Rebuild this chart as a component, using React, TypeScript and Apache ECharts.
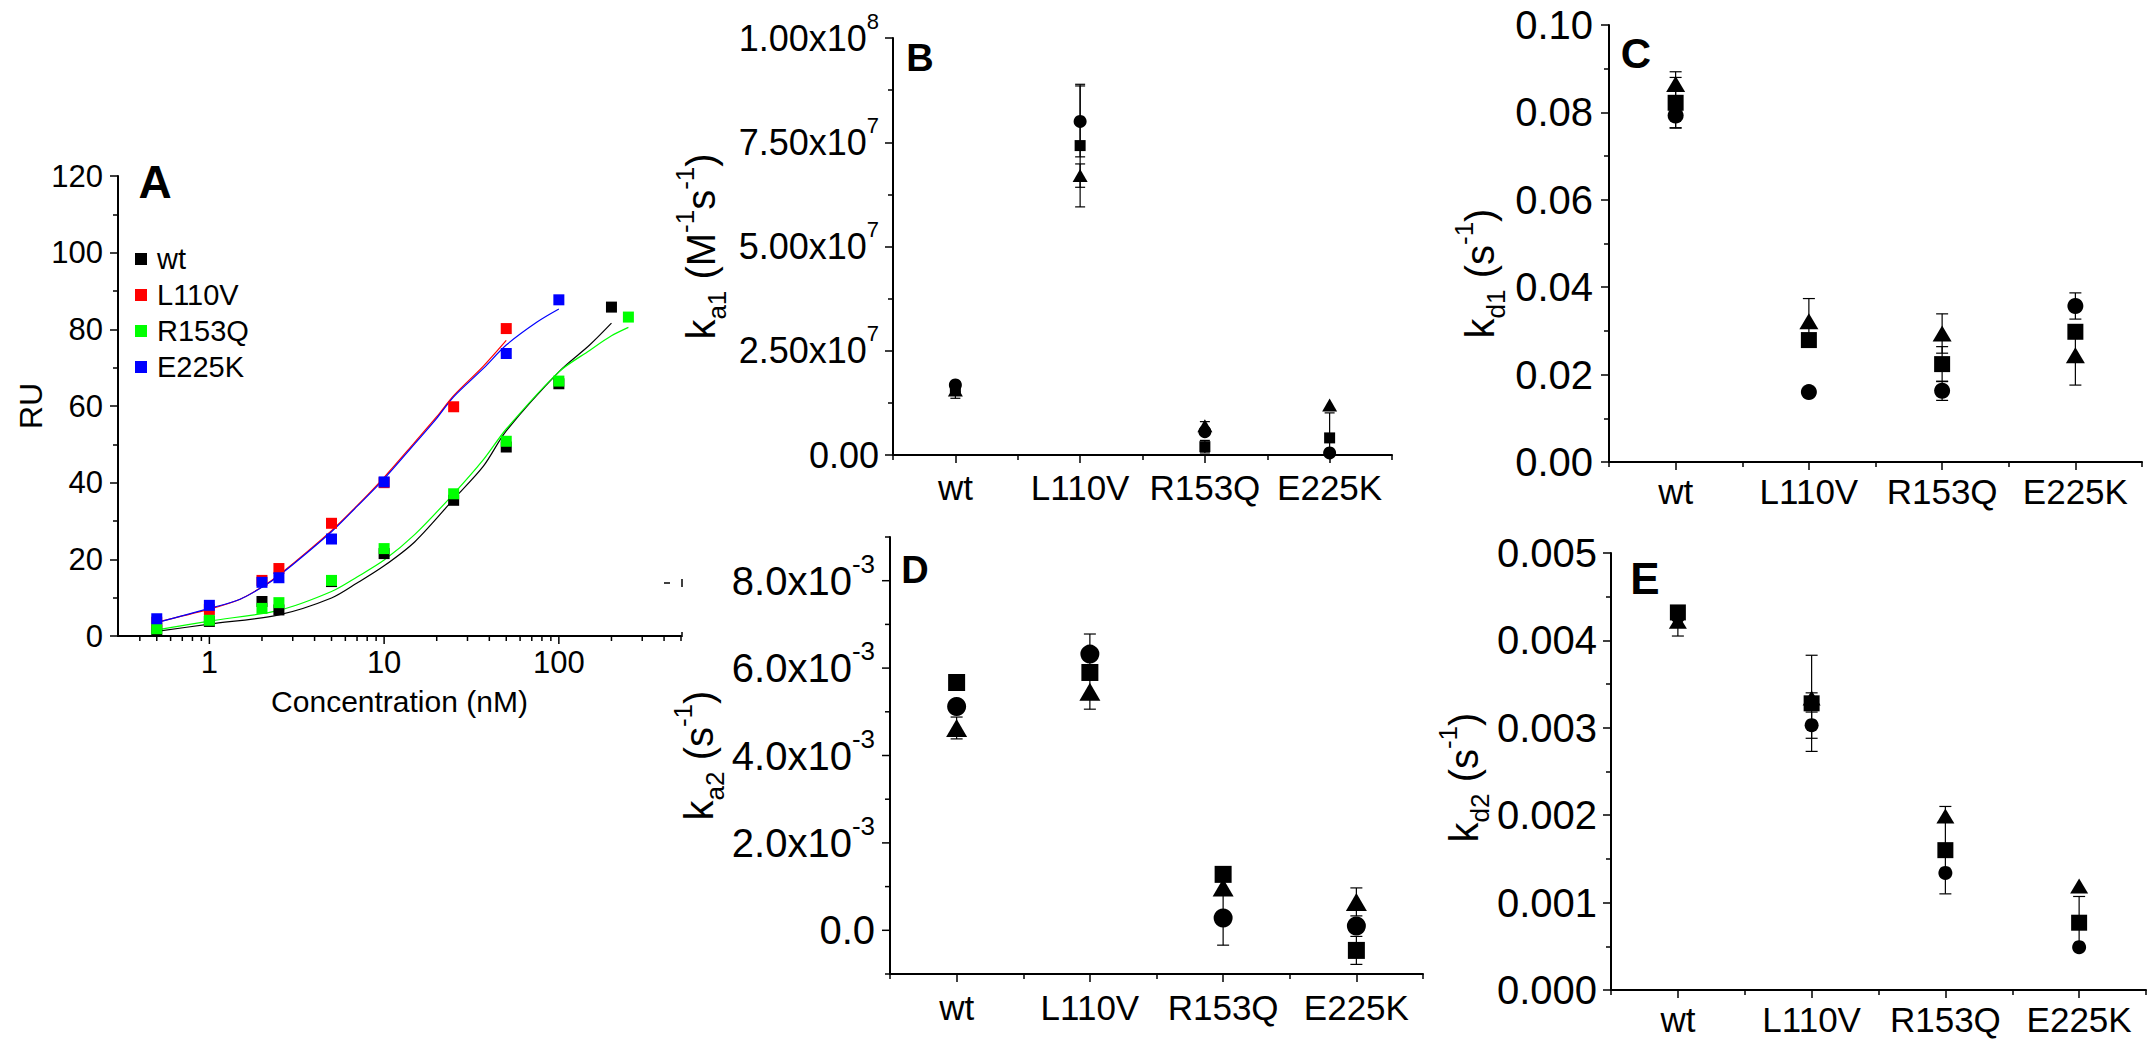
import React, { useEffect, useRef } from 'react';
import * as echarts from 'echarts';

const FONT = '"Liberation Sans", Arial, Helvetica, sans-serif';
const BLACK = '#000000';

// ---------- Panel A: RU vs concentration (nM) ----------
const aConcWt = [0.5, 1, 2, 2.5, 5, 10, 25, 50, 100, 200];
const aRuWt = [1.5, 3.8, 9.0, 6.8, 14.2, 21.5, 35.4, 49.3, 65.8, 85.8];
const aConcL110V = [0.5, 1, 2, 2.5, 5, 10, 25, 50];
const aRuL110V = [3.6, 6.9, 14.5, 17.6, 29.4, 40.0, 59.8, 80.2];
const aConcR153Q = [0.5, 1, 2, 2.5, 5, 10, 25, 50, 100, 250];
const aRuR153Q = [1.9, 4.1, 7.2, 8.7, 14.5, 22.8, 37.1, 50.8, 66.5, 83.2];
const aConcE225K = [0.5, 1, 2, 2.5, 5, 10, 50, 100];
const aRuE225K = [4.5, 8.0, 14.0, 15.2, 25.3, 40.2, 73.7, 87.7];

// fitted curves
const fitConcWt = [0.5, 1, 2.5, 5, 7, 10, 15, 25, 37, 50, 100, 150, 200];
const fitRuWt = [1.2, 3.1, 5.5, 9.9, 13.8, 18.3, 24.6, 35.7, 44.3, 53.5, 68.9, 75.9, 81.6];
const fitConcL110V = [0.5, 1, 1.5, 2, 2.5, 5, 7, 10, 15, 20, 25, 37, 50];
const fitRuL110V = [3.6, 7.0, 9.6, 12.8, 15.9, 27.5, 34.0, 41.4, 50.6, 57.2, 62.7, 70.4, 77.1];
const fitConcR153Q = [0.5, 1, 2.5, 5, 7, 10, 15, 25, 37, 50, 100, 150, 200, 250];
const fitRuR153Q = [1.6, 3.9, 6.7, 11.6, 15.4, 19.8, 26.5, 37.1, 46.0, 54.0, 68.9, 74.5, 78.3, 80.5];
const fitConcE225K = [0.5, 1, 1.5, 2, 2.5, 5, 7, 10, 15, 20, 25, 37, 50, 75, 100];
const fitRuE225K = [3.5, 7.2, 9.6, 12.7, 15.7, 27.2, 33.8, 41.0, 50.2, 56.8, 62.4, 69.8, 75.9, 81.9, 85.3];

const aSeriesNames = ['wt', 'L110V', 'R153Q', 'E225K'];
const aColors = ['#000000', '#ff0000', '#00ff00', '#0000ff'];

// tick positions on panel A's log axis
const aMajorTicks = [1, 10, 100];
const aMinorTicks = [0.4, 0.5, 0.6, 0.7, 0.8, 0.9, 2, 3, 4, 5, 6, 7, 8, 9, 20, 30, 40, 50, 60, 70, 80, 90, 200, 300, 400, 500];

// ---------- Panels B-E ----------
const categories = ['wt', 'L110V', 'R153Q', 'E225K'];

// B: k_a1 (M^-1 s^-1)
const bSquare = [1.62e7, 7.42e7, 0.2e7, 0.41e7];
const bSquareErr = [0.1e7, 1.47e7, 0.15e7, 0.6e7];
const bCircle = [1.68e7, 8.0e7, 0.56e7, 0.05e7];
const bCircleErr = [0, 0.85e7, 0, 0];
const bTriangle = [1.56e7, 6.7e7, 0.7e7, 1.2e7];
const bTriangleErr = [0.2e7, 0.28e7, 0.1e7, 0];

// C: k_d1 (s^-1)
const cSquare = [0.0822, 0.0279, 0.0224, 0.0298];
const cSquareErr = [0.0058, 0, 0.004, 0];
const cCircle = [0.0793, 0.016, 0.0163, 0.0357];
const cCircleErr = [0.0028, 0, 0.0022, 0.003];
const cTriangle = [0.0865, 0.0322, 0.0294, 0.0244];
const cTriangleErr = [0.0028, 0.0052, 0.0045, 0.0068];

// D: k_a2 (s^-1)
const dSquare = [5.67e-3, 5.9e-3, 1.28e-3, -0.46e-3];
const dSquareErr = [0, 0, 0, 0.32e-3];
const dCircle = [5.12e-3, 6.32e-3, 0.28e-3, 0.1e-3];
const dCircleErr = [0, 0.46e-3, 0.62e-3, 0];
const dTriangle = [4.63e-3, 5.46e-3, 0.98e-3, 0.65e-3];
const dTriangleErr = [0.25e-3, 0.4e-3, 0, 0.32e-3];

// E: k_d2 (s^-1)
const eSquare = [4.32e-3, 3.28e-3, 1.6e-3, 0.77e-3];
const eSquareErr = [0, 0.55e-3, 0.5e-3, 0.3e-3];
const eCircle = [4.27e-3, 3.03e-3, 1.34e-3, 0.49e-3];
const eCircleErr = [0, 0.15e-3, 0, 0];
const eTriangle = [4.22e-3, 3.34e-3, 1.99e-3, 1.19e-3];
const eTriangleErr = [0.17e-3, 0.06e-3, 0, 0];

// tick positions on panel D's y axis
const dMajorTicks = [0, 0.002, 0.004, 0.006, 0.008];
const dMinorTicks = [-0.001, 0.001, 0.003, 0.005, 0.007, 0.009];

function zip(xs: number[], ys: number[]) {
  return xs.map((x, i) => [x, ys[i]]);
}

const axisLine = { show: true, onZero: false, lineStyle: { color: BLACK, width: 2 } };
const tickLine = { color: BLACK, width: 1.5 };
const majorTick = { show: true, length: 8, lineStyle: tickLine };
const minorTick = { show: true, splitNumber: 2, length: 5, lineStyle: tickLine };

function catMajor(gi: number, margin: number) {
  return {
    type: 'category', gridIndex: gi, data: categories, position: 'bottom', boundaryGap: true,
    axisLine, axisTick: { ...majorTick, alignWithLabel: true, interval: 0 },
    axisLabel: { interval: 0, fontSize: 35, margin, color: BLACK, fontFamily: FONT },
    splitLine: { show: false },
  };
}
function catMinor(gi: number) {
  return {
    type: 'category', gridIndex: gi, data: categories, position: 'bottom', boundaryGap: true,
    axisLine: { show: false, onZero: false },
    axisTick: { show: true, length: 5, interval: 0, alignWithLabel: false, lineStyle: tickLine },
    axisLabel: { show: false }, splitLine: { show: false },
  };
}

// shift: moves the rotated title downwards by that many pixels
function nameRich(big: number, small: number, lh: number, shift: number) {
  return {
    k: { fontSize: big, fontFamily: FONT, color: BLACK, lineHeight: lh },
    t: { fontSize: big, fontFamily: FONT, color: BLACK, lineHeight: lh },
    te: { fontSize: big, fontFamily: FONT, color: BLACK, lineHeight: lh, padding: [0, Math.max(0, 2 * shift), 0, Math.max(0, -2 * shift)] },
    sub: { fontSize: small, fontFamily: FONT, color: BLACK, lineHeight: small, verticalAlign: 'bottom' },
    sup: { fontSize: small, fontFamily: FONT, color: BLACK, lineHeight: small, verticalAlign: 'top' },
  };
}

function labelRich(big: number, small: number, lh: number) {
  return {
    m: { fontSize: big, fontFamily: FONT, color: BLACK, lineHeight: lh },
    e: { fontSize: small, fontFamily: FONT, color: BLACK, lineHeight: small, verticalAlign: 'top' },
  };
}

function errorSeries(xi: number, yi: number, values: number[], errs: number[], cap: number) {
  const data = values.map((v, i) => [i, v - errs[i], v + errs[i], errs[i]]).filter((d) => d[3] > 0);
  return {
    type: 'custom', xAxisIndex: xi, yAxisIndex: yi, clip: true, silent: true, z: 2,
    encode: { x: 0, y: [1, 2] },
    data,
    renderItem: (params: any, api: any) => {
      const lo = api.coord([api.value(0), api.value(1)]);
      const hi = api.coord([api.value(0), api.value(2)]);
      const st = { stroke: BLACK, lineWidth: 1.2 };
      return {
        type: 'group',
        children: [
          { type: 'line', shape: { x1: lo[0], y1: lo[1], x2: hi[0], y2: hi[1] }, style: st },
          { type: 'line', shape: { x1: lo[0] - cap, y1: lo[1], x2: lo[0] + cap, y2: lo[1] }, style: st },
          { type: 'line', shape: { x1: hi[0] - cap, y1: hi[1], x2: hi[0] + cap, y2: hi[1] }, style: st },
        ],
      };
    },
  };
}

function shapeSeries(xi: number, yi: number, values: number[], symbol: string, size: any) {
  return {
    type: 'scatter', xAxisIndex: xi, yAxisIndex: yi, symbol, symbolSize: size, silent: true, z: 3,
    itemStyle: { color: BLACK, opacity: 1 },
    data: values.map((v, i) => [i, v]),
  };
}

function xTickSeries(xi: number, yi: number, values: number[], len: number) {
  return {
    type: 'custom', xAxisIndex: xi, yAxisIndex: yi, clip: false, silent: true, z: 5,
    data: values.map((v) => [v, 1]),
    renderItem: (params: any, api: any) => {
      const cs = params.coordSys;
      const x = api.coord([api.value(0), 1])[0];
      const y = cs.y + cs.height;
      return { type: 'line', shape: { x1: x, y1: y, x2: x, y2: y + len }, style: { stroke: BLACK, lineWidth: 1.5 } };
    },
  };
}

function yTickSeries(xi: number, yi: number, values: number[], len: number) {
  return {
    type: 'custom', xAxisIndex: xi, yAxisIndex: yi, clip: false, silent: true, z: 5,
    data: values.map((v) => [0, v]),
    renderItem: (params: any, api: any) => {
      const cs = params.coordSys;
      const y = api.coord([0, api.value(1)])[1];
      const x = cs.x;
      return { type: 'line', shape: { x1: x, y1: y, x2: x - len, y2: y }, style: { stroke: BLACK, lineWidth: 1.5 } };
    },
  };
}

function formatSci2(v: number) {
  if (Math.abs(v) < 1e-20) return '{m|0.00}';
  const ex = Math.floor(Math.log10(v) + 1e-9);
  const mant = v / Math.pow(10, ex);
  return '{m|' + mant.toFixed(2) + 'x10}{e|' + ex + '}';
}

function formatD(v: number) {
  const k = Math.round(v * 1000);
  if (k % 2 !== 0) return '';
  if (k === 0) return '{m|0.0}';
  return '{m|' + k.toFixed(1) + 'x10}{e|-3}';
}

function buildOption() {
  const series: any[] = [];

  // Panel A fitted curves
  const fits = [
    zip(fitConcWt, fitRuWt), zip(fitConcL110V, fitRuL110V),
    zip(fitConcR153Q, fitRuR153Q), zip(fitConcE225K, fitRuE225K),
  ];
  fits.forEach((d, i) => {
    series.push({
      type: 'line', name: aSeriesNames[i] + ' fit', xAxisIndex: 0, yAxisIndex: 0, data: d,
      showSymbol: false, smooth: 0.3, silent: true, z: 2,
      lineStyle: { color: aColors[i], width: 1.2 }, itemStyle: { color: aColors[i] },
    });
  });
  // Panel A points
  const pts = [
    zip(aConcWt, aRuWt), zip(aConcL110V, aRuL110V),
    zip(aConcR153Q, aRuR153Q), zip(aConcE225K, aRuE225K),
  ];
  pts.forEach((d, i) => {
    series.push({
      type: 'scatter', name: aSeriesNames[i], xAxisIndex: 0, yAxisIndex: 0, data: d,
      symbol: 'rect', symbolSize: 11, silent: true, z: 3, itemStyle: { color: aColors[i], opacity: 1 },
    });
  });
  series.push(xTickSeries(0, 0, aMajorTicks, 8));
  series.push(xTickSeries(0, 0, aMinorTicks, 5));

  const panels = [
    { xi: 1, yi: 1, sq: bSquare, sqE: bSquareErr, ci: bCircle, ciE: bCircleErr, tr: bTriangle, trE: bTriangleErr, c: 13, s: 11, t: [15, 13], cap: 5 },
    { xi: 2, yi: 2, sq: cSquare, sqE: cSquareErr, ci: cCircle, ciE: cCircleErr, tr: cTriangle, trE: cTriangleErr, c: 16, s: 16, t: [19, 16], cap: 6 },
    { xi: 3, yi: 3, sq: dSquare, sqE: dSquareErr, ci: dCircle, ciE: dCircleErr, tr: dTriangle, trE: dTriangleErr, c: 19, s: 17, t: [21, 18], cap: 6 },
    { xi: 4, yi: 4, sq: eSquare, sqE: eSquareErr, ci: eCircle, ciE: eCircleErr, tr: eTriangle, trE: eTriangleErr, c: 14, s: 16, t: [18, 15], cap: 6 },
  ];
  panels.forEach((p) => {
    series.push(errorSeries(p.xi, p.yi, p.sq, p.sqE, p.cap));
    series.push(errorSeries(p.xi, p.yi, p.ci, p.ciE, p.cap));
    series.push(errorSeries(p.xi, p.yi, p.tr, p.trE, p.cap));
    series.push(shapeSeries(p.xi, p.yi, p.tr, 'triangle', p.t));
    series.push(shapeSeries(p.xi, p.yi, p.ci, 'circle', p.c));
    series.push(shapeSeries(p.xi, p.yi, p.sq, 'rect', p.s));
  });
  series.push(yTickSeries(3, 3, dMajorTicks, 8));
  series.push(yTickSeries(3, 3, dMinorTicks, 5));

  const gridBase = { containLabel: false, outerBoundsMode: 'none', show: false };

  return {
    animation: false,
    backgroundColor: '#ffffff',
    textStyle: { fontFamily: FONT, color: BLACK },
    grid: [
      { ...gridBase, left: 118, top: 176, width: 563, height: 460 },
      { ...gridBase, left: 893, top: 38, width: 499, height: 417 },
      { ...gridBase, left: 1609, top: 25, width: 533, height: 437 },
      { ...gridBase, left: 890, top: 537, width: 533, height: 437 },
      { ...gridBase, left: 1611, top: 553, width: 535, height: 437 },
    ],
    legend: {
      show: true, orient: 'vertical', left: 130, top: 239, itemWidth: 12, itemHeight: 12, itemGap: 6,
      icon: 'rect', selectedMode: false, data: aSeriesNames,
      textStyle: { fontSize: 29, fontFamily: FONT, color: BLACK, lineHeight: 30, padding: [0, 0, 0, 5] },
    },
    xAxis: [
      {
        type: 'log', logBase: 10, gridIndex: 0, min: 0.3, max: 500, position: 'bottom',
        axisLine, axisTick: { show: false }, minorTick: { show: false },
        axisLabel: { fontSize: 31, margin: 11, color: BLACK, fontFamily: FONT, showMinLabel: false, showMaxLabel: false },
        splitLine: { show: false },
        name: 'Concentration (nM)', nameLocation: 'middle', nameGap: 50,
        nameTextStyle: { fontSize: 30, fontFamily: FONT, color: BLACK, lineHeight: 30 },
      },
      catMajor(1, 15), catMajor(2, 12), catMajor(3, 16), catMajor(4, 12),
      catMinor(1), catMinor(2), catMinor(3), catMinor(4),
    ],
    yAxis: [
      {
        type: 'value', gridIndex: 0, min: 0, max: 120, interval: 20,
        axisLine, axisTick: majorTick, minorTick, splitLine: { show: false }, minorSplitLine: { show: false },
        axisLabel: { fontSize: 31, margin: 15, color: BLACK, fontFamily: FONT },
        name: 'RU', nameLocation: 'middle', nameRotate: 90, nameGap: 70,
        nameTextStyle: { fontSize: 32, fontFamily: FONT, color: BLACK, lineHeight: 32 },
      },
      {
        type: 'value', gridIndex: 1, min: 0, max: 1e8, interval: 2.5e7,
        axisLine, axisTick: majorTick, minorTick, splitLine: { show: false }, minorSplitLine: { show: false },
        axisLabel: { margin: 14, formatter: formatSci2, rich: labelRich(36, 22, 56) },
        name: '{k|k}{sub|a1}{t| (M}{sup|-1}{t|s}{sup|-1}{te|)}', nameLocation: 'middle', nameRotate: 90, nameGap: 163,
        nameTextStyle: { fontFamily: FONT, color: BLACK, rich: nameRich(40, 26, 58, 0) },
      },
      {
        type: 'value', gridIndex: 2, min: 0, max: 0.1, interval: 0.02,
        axisLine, axisTick: majorTick, minorTick, splitLine: { show: false }, minorSplitLine: { show: false },
        axisLabel: { fontSize: 40, margin: 16, color: BLACK, fontFamily: FONT, formatter: (v: number) => v.toFixed(2) },
        name: '{k|k}{sub|d1}{t| (s}{sup|-1}{te|)}', nameLocation: 'middle', nameRotate: 90, nameGap: 100,
        nameTextStyle: { fontFamily: FONT, color: BLACK, rich: nameRich(40, 26, 58, 30) },
      },
      {
        type: 'value', gridIndex: 3, min: -0.001, max: 0.009, interval: 0.001,
        axisLine, axisTick: { show: false }, minorTick: { show: false }, splitLine: { show: false },
        axisLabel: { margin: 15, formatter: formatD, rich: labelRich(40, 26, 60) },
        name: '{k|k}{sub|a2}{t| (s}{sup|-1}{te|)}', nameLocation: 'middle', nameRotate: 90, nameGap: 159,
        nameTextStyle: { fontFamily: FONT, color: BLACK, rich: nameRich(40, 26, 58, 0) },
      },
      {
        type: 'value', gridIndex: 4, min: 0, max: 0.005, interval: 0.001,
        axisLine, axisTick: majorTick, minorTick, splitLine: { show: false }, minorSplitLine: { show: false },
        axisLabel: { fontSize: 40, margin: 14, color: BLACK, fontFamily: FONT, formatter: (v: number) => v.toFixed(3) },
        name: '{k|k}{sub|d2}{t| (s}{sup|-1}{te|)}', nameLocation: 'middle', nameRotate: 90, nameGap: 118,
        nameTextStyle: { fontFamily: FONT, color: BLACK, rich: nameRich(40, 26, 58, 6) },
      },
    ],
    series,
    graphic: [
      { type: 'text', x: 155, y: 182, z: 10, style: { text: 'A', fontSize: 46, fontWeight: 'bold', fontFamily: FONT, fill: BLACK, align: 'center', verticalAlign: 'middle' } },
      { type: 'text', x: 920, y: 58, z: 10, style: { text: 'B', fontSize: 38, fontWeight: 'bold', fontFamily: FONT, fill: BLACK, align: 'center', verticalAlign: 'middle' } },
      { type: 'text', x: 1636, y: 53, z: 10, style: { text: 'C', fontSize: 42, fontWeight: 'bold', fontFamily: FONT, fill: BLACK, align: 'center', verticalAlign: 'middle' } },
      { type: 'text', x: 915, y: 570, z: 10, style: { text: 'D', fontSize: 38, fontWeight: 'bold', fontFamily: FONT, fill: BLACK, align: 'center', verticalAlign: 'middle' } },
      { type: 'text', x: 1645, y: 578, z: 10, style: { text: 'E', fontSize: 44, fontWeight: 'bold', fontFamily: FONT, fill: BLACK, align: 'center', verticalAlign: 'middle' } },
      { type: 'line', z: 10, shape: { x1: 664, y1: 583, x2: 670, y2: 583 }, style: { stroke: BLACK, lineWidth: 1.5 } },
      { type: 'line', z: 10, shape: { x1: 682, y1: 579, x2: 682, y2: 587 }, style: { stroke: BLACK, lineWidth: 1.5 } },
      { type: 'line', z: 10, shape: { x1: 682, y1: 632, x2: 682, y2: 637 }, style: { stroke: BLACK, lineWidth: 1.5 } },
    ],
  };
}

export default function App() {
  const ref = useRef<HTMLDivElement>(null);
  useEffect(() => {
    if (!ref.current) return;
    const chart = echarts.init(ref.current, undefined, { renderer: 'svg' });
    chart.setOption(buildOption() as any);
    return () => chart.dispose();
  }, []);
  return (
    <div
      ref={ref}
      style={{ position: 'fixed', left: 0, top: 0, width: '2149px', height: '1042px', background: '#ffffff' }}
    />
  );
}
